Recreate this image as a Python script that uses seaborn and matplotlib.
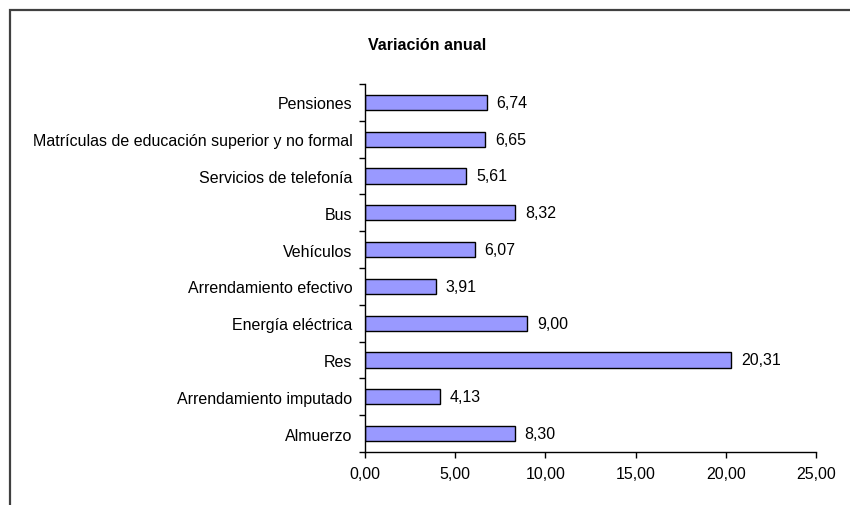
import matplotlib
matplotlib.use("Agg")
import matplotlib.pyplot as plt
from matplotlib.patches import Rectangle
from matplotlib.ticker import FixedLocator, FuncFormatter
import pandas as pd
import seaborn as sns

# Datos (de arriba hacia abajo)
categorias = ["Pensiones",
              "Matrículas de educación superior y no formal",
              "Servicios de telefonía",
              "Bus",
              "Vehículos",
              "Arrendamiento efectivo",
              "Energía eléctrica",
              "Res",
              "Arrendamiento imputado",
              "Almuerzo"]
variacion = [6.74, 6.65, 5.61, 8.32, 6.07, 3.91, 9.00, 20.31, 4.13, 8.30]
x_ticks = [0, 5, 10, 15, 20, 25]

df = pd.DataFrame({"categoria": categorias, "variacion": variacion})

sns.set_style("white")
plt.rcParams['font.family'] = ['Liberation Sans', 'DejaVu Sans']
plt.rcParams['text.color'] = 'black'
plt.rcParams['xtick.color'] = 'black'
plt.rcParams['ytick.color'] = 'black'

fs = 11.5

fig = plt.figure(figsize=(8.5, 5.06), dpi=100)
ax = fig.add_axes([365 / 850, 1 - 453 / 506, (816 - 365) / 850, (453 - 85) / 506])

sns.barplot(data=df, x="variacion", y="categoria", order=categorias,
            color="#9999FF", edgecolor="black", linewidth=1.0,
            width=0.41, saturation=1, ax=ax)

# Etiquetas de valor
for i, v in enumerate(variacion):
    ax.text(v + 0.55, i, f"{v:.2f}".replace(".", ","), va="center", ha="left",
            fontsize=fs, color="black")

ax.set_xlim(0, 25)
ax.set_ylim(9.5, -0.5)
ax.set_xticks(x_ticks)
ax.xaxis.set_major_formatter(FuncFormatter(lambda x, p: f"{x:.2f}".replace(".", ",")))
ax.set_xlabel("")
ax.set_ylabel("")

ax.yaxis.set_minor_locator(FixedLocator([i - 0.5 for i in range(len(categorias) + 1)]))
ax.tick_params(axis="y", which="major", length=0, pad=9, labelsize=fs, labelcolor="black")
ax.tick_params(axis="y", which="minor", length=4, width=1, color="black", left=True)
ax.tick_params(axis="x", which="major", length=4, width=1, color="black", bottom=True,
               labelsize=fs, labelcolor="black", pad=6)

for s in ["top", "right"]:
    ax.spines[s].set_visible(False)
for s in ["left", "bottom"]:
    ax.spines[s].set_color("black")
    ax.spines[s].set_linewidth(1.0)
ax.grid(False)

fig.text(427 / 850, 1 - 45 / 506, "Variación anual", ha="center", va="center",
         fontsize=11.5, fontweight="bold", color="black")

# Marco del gráfico
fig.add_artist(Rectangle((10 / 850, -0.5), 2, 0.5 + (1 - 11 / 506), transform=fig.transFigure,
                         fill=False, edgecolor="#404040", linewidth=1.6))

fig.savefig("out.png", dpi=100)
